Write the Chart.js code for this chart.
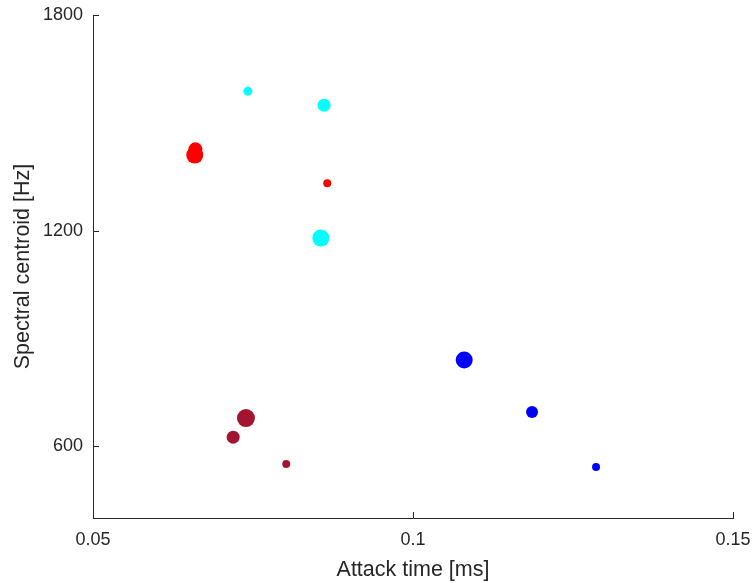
<!DOCTYPE html>
<html>
<head>
<meta charset="utf-8">
<script src="https://cdn.jsdelivr.net/npm/chart.js@4"></script>
<style>
  html, body { margin: 0; padding: 0; background: #fff; }
  #wrap { width: 755px; height: 583px; }
</style>
</head>
<body>
<div id="wrap"><canvas id="scatter-chart"></canvas></div>
<script>
// 데이터 (attack time [ms], spectral centroid [Hz])
const xTicks = [0.05, 0.1, 0.15];
const yTicks = [600, 1200, 1800];

const cyanAttack = [0.0742, 0.0861, 0.0856];
const cyanCentroid = [1588, 1549, 1179];

const redAttack = [0.0659, 0.0660, 0.0866];
const redCentroid = [1410, 1426, 1332];

const blueAttack = [0.1080, 0.1186, 0.1286];
const blueCentroid = [840, 695, 542];

const darkRedAttack = [0.0739, 0.0719, 0.0802];
const darkRedCentroid = [678, 625, 550];

// 마커 크기
const cyanRadius = [4.5, 6.5, 8.5];
const redRadius = [8.5, 7, 4];
const blueRadius = [8.5, 6, 4];
const darkRedRadius = [9, 6.5, 4];

function toPoints(xs, ys) {
    return xs.map((x, i) => ({ x: x, y: ys[i] }));
}

function makeSet(xs, ys, radius, color) {
    return {
        data: toPoints(xs, ys),
        pointRadius: radius,
        pointHoverRadius: radius,
        backgroundColor: color,
        borderColor: color,
        borderWidth: 0,
        showLine: false
    };
}

const axisColor = '#262626';
const fontFamily = "'Liberation Sans', Arial, sans-serif";

// 안쪽으로 향하는 눈금 그리기
const inwardTicks = {
    id: 'inwardTicks',
    afterDraw(chart) {
        const ctx = chart.ctx;
        const area = chart.chartArea;
        const xs = chart.scales.x, ys = chart.scales.y;
        ctx.save();
        ctx.strokeStyle = axisColor;
        ctx.lineWidth = 1;
        ctx.beginPath();
        xTicks.forEach(v => {
            const px = Math.round(xs.getPixelForValue(v)) + 0.5;
            ctx.moveTo(px, area.bottom);
            ctx.lineTo(px, area.bottom - 6);
        });
        yTicks.forEach(v => {
            const py = Math.round(ys.getPixelForValue(v)) + 0.5;
            ctx.moveTo(area.left, py);
            ctx.lineTo(area.left + 6, py);
        });
        ctx.stroke();
        ctx.restore();
    }
};

const chart = new Chart(document.getElementById('scatter-chart').getContext('2d'), {
    type: 'scatter',
    data: {
        datasets: [
            makeSet(cyanAttack, cyanCentroid, cyanRadius, '#00FFFF'),
            makeSet(redAttack, redCentroid, redRadius, '#FF0000'),
            makeSet(blueAttack, blueCentroid, blueRadius, '#0000FF'),
            makeSet(darkRedAttack, darkRedCentroid, darkRedRadius, '#A2142F')
        ]
    },
    options: {
        responsive: true,
        maintainAspectRatio: false,
        animation: false,
        layout: { padding: { top: 15, right: 22, left: 0, bottom: 0 } },
        plugins: {
            legend: { display: false },
            tooltip: { enabled: false }
        },
        scales: {
            x: {
                type: 'linear',
                min: 0.05,
                max: 0.15,
                afterBuildTicks: s => { s.ticks = xTicks.map(v => ({ value: v })); },
                afterFit: s => { s.height = 65; s.paddingLeft = 0; s.paddingRight = 0; },
                grid: { display: true, drawOnChartArea: false, drawTicks: false },
                border: { display: true, color: axisColor, width: 1 },
                ticks: {
                    color: axisColor,
                    padding: 11,
                    maxRotation: 0,
                    font: { family: fontFamily, size: 18 },
                    callback: v => String(v)
                },
                title: {
                    display: true,
                    text: 'Attack time [ms]',
                    color: axisColor,
                    padding: { top: 3, bottom: 0 },
                    font: { family: fontFamily, size: 21.5 }
                }
            },
            y: {
                type: 'linear',
                min: 400,
                max: 1800,
                afterBuildTicks: s => { s.ticks = yTicks.map(v => ({ value: v })); },
                afterFit: s => { s.width = 93; s.paddingTop = 0; s.paddingBottom = 0; },
                grid: { display: true, drawOnChartArea: false, drawTicks: false },
                border: { display: true, color: axisColor, width: 1 },
                ticks: {
                    color: axisColor,
                    padding: 10,
                    font: { family: fontFamily, size: 18 },
                    callback: v => String(v)
                },
                title: {
                    display: true,
                    text: 'Spectral centroid [Hz]',
                    color: axisColor,
                    padding: { top: 10, bottom: 0 },
                    font: { family: fontFamily, size: 21.5 }
                }
            }
        }
    },
    plugins: [inwardTicks]
});
</script>
</body>
</html>
